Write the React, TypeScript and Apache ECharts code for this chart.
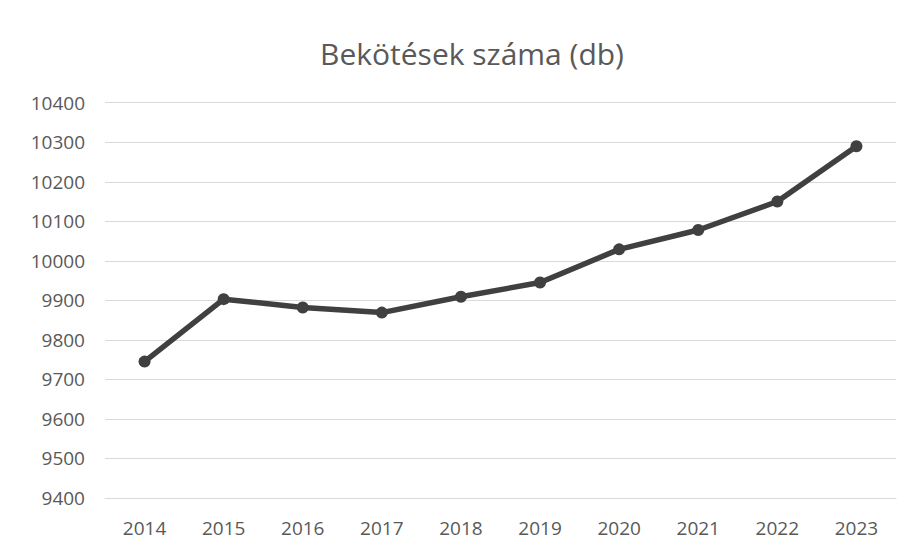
import React, { useEffect, useRef } from "react";
import * as echarts from "echarts";

const years = ["2014", "2015", "2016", "2017", "2018", "2019", "2020", "2021", "2022", "2023"];
const connections = [9745, 9903, 9882, 9869, 9909, 9945, 10029, 10078, 10150, 10290];
const titleText = "Bekötések száma (db)";
const yMin = 9400;
const yMax = 10400;
const yStep = 100;

export default function App() {
  const ref = useRef<HTMLDivElement>(null);
  useEffect(() => {
    if (!ref.current) return;
    const chart = echarts.init(ref.current, null, { renderer: "svg" });
    const font = "'Open Sans', 'Noto Sans', sans-serif";
    chart.setOption({
      animation: false,
      backgroundColor: "#ffffff",
      title: {
        text: titleText,
        left: 467,
        textAlign: "center",
        top: 33,
        textStyle: { fontFamily: font, fontSize: 30, fontWeight: "normal", color: "#595959" },
      },
      grid: { left: 105, right: 15, top: 102.7, bottom: 53 },
      xAxis: {
        type: "category",
        data: years,
        boundaryGap: true,
        axisLine: { show: true, lineStyle: { color: "#d9d9d9", width: 1 } },
        axisTick: { show: false },
        axisLabel: { fontFamily: font, fontSize: 19, color: "#595959", margin: 20 },
      },
      yAxis: {
        type: "value",
        min: yMin,
        max: yMax,
        interval: yStep,
        axisLine: { show: false },
        axisTick: { show: false },
        splitLine: { lineStyle: { color: "#d9d9d9", width: 1 } },
        axisLabel: {
          fontFamily: font,
          fontSize: 19,
          color: "#595959",
          margin: 20,
          formatter: (v: number) => String(v),
        },
      },
      series: [
        {
          type: "line",
          data: connections,
          symbol: "circle",
          symbolSize: 12,
          lineStyle: { color: "#404040", width: 5.5 },
          itemStyle: { color: "#404040" },
        },
      ],
    });
    return () => chart.dispose();
  }, []);
  return (
    <div
      ref={ref}
      style={{ position: "fixed", left: 0, top: 0, width: 911, height: 551, background: "#fff" }}
    />
  );
}
